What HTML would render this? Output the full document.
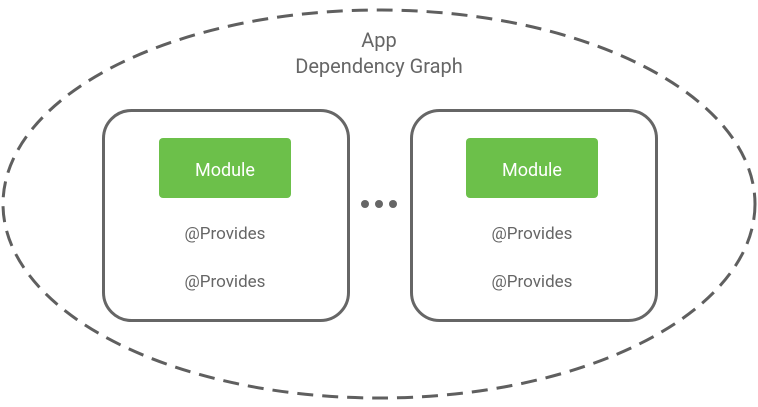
<!DOCTYPE html>
<html><head><style>
html,body{margin:0;padding:0;background:#fff;}
</style></head><body>
<svg width="758" height="402" xmlns="http://www.w3.org/2000/svg" font-family="Roboto, 'Liberation Sans', sans-serif">
<ellipse cx="379" cy="204" rx="376" ry="194" fill="none" stroke="#5f5f5f" stroke-width="3" stroke-dasharray="16 9"/>
<text x="379" y="47" text-anchor="middle" font-size="20" fill="#666">App</text>
<text x="379" y="73" text-anchor="middle" font-size="20" fill="#666">Dependency Graph</text>
<rect x="103.5" y="110.5" width="245" height="210" rx="28" fill="#fff" stroke="#666" stroke-width="3"/>
<rect x="159" y="138" width="132" height="60" rx="4" fill="#6cc04a"/>
<text x="225" y="176" text-anchor="middle" font-size="18" fill="#fff">Module</text>
<text x="225" y="239" text-anchor="middle" font-size="17" fill="#666">@Provides</text>
<text x="225" y="287" text-anchor="middle" font-size="17" fill="#666">@Provides</text>
<rect x="411.5" y="110.5" width="245" height="210" rx="28" fill="#fff" stroke="#666" stroke-width="3"/>
<rect x="466" y="138" width="132" height="60" rx="4" fill="#6cc04a"/>
<text x="532" y="176" text-anchor="middle" font-size="18" fill="#fff">Module</text>
<text x="532" y="239" text-anchor="middle" font-size="17" fill="#666">@Provides</text>
<text x="532" y="287" text-anchor="middle" font-size="17" fill="#666">@Provides</text>
<circle cx="365" cy="204" r="4" fill="#666"/>
<circle cx="379" cy="204" r="4" fill="#666"/>
<circle cx="393" cy="204" r="4" fill="#666"/>
</svg>
</body></html>
